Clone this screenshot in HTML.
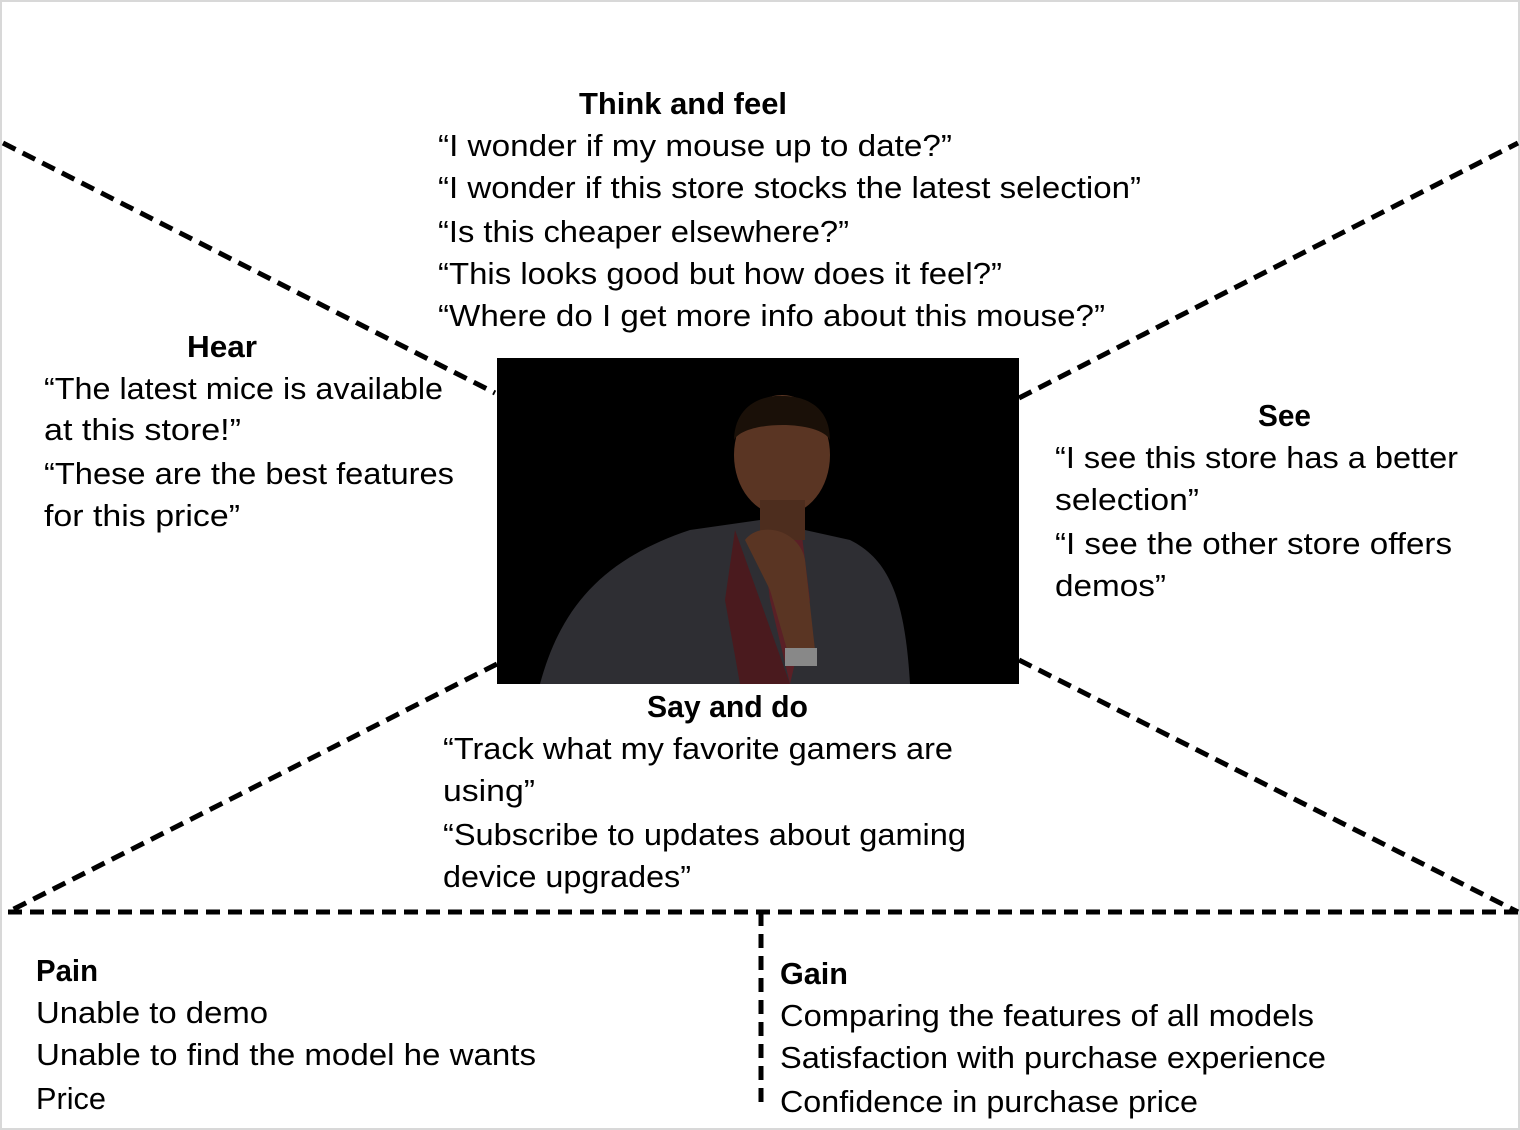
<!DOCTYPE html>
<html><head><meta charset="utf-8"><style>
html,body{margin:0;padding:0;background:#fff;}
svg{display:block;}
text{font-family:"Liberation Sans",sans-serif;font-size:31px;fill:#000;}
.b{font-weight:bold;}
</style></head><body>
<svg width="1520" height="1130" viewBox="0 0 1520 1130" xmlns="http://www.w3.org/2000/svg">
<rect x="1" y="1" width="1518" height="1128" fill="#fff" stroke="#d8d8d8" stroke-width="2"/>
<g stroke="#000" stroke-width="5" stroke-dasharray="14 8" fill="none">
<line x1="3" y1="143" x2="495" y2="393"/>
<line x1="1019" y1="398" x2="1518" y2="143"/>
<line x1="497" y1="664" x2="8" y2="912"/>
<line x1="1019" y1="660" x2="1518" y2="912"/>
<line x1="8" y1="912" x2="1518" y2="912"/>
<line x1="761" y1="912" x2="761" y2="1110"/>
</g>
<rect x="497" y="358" width="522" height="326" fill="#000"/>
<path d="M540 684 C560 610 600 560 690 530 L760 520 L850 540 C890 560 905 600 910 684 Z" fill="#2e2e33"/>
<path d="M735 530 L760 600 L790 684 L740 684 L725 600 Z" fill="#4a1a1e"/>
<path d="M760 520 L800 520 L810 600 L790 684 L770 600 Z" fill="#5a2026"/>
<ellipse cx="782" cy="455" rx="48" ry="60" fill="#5a3523"/>
<path d="M734 440 C735 400 770 395 782 396 C810 396 830 410 830 440 C820 420 745 420 734 440 Z" fill="#1a1008"/>
<rect x="760" y="500" width="45" height="40" fill="#4d2d1e"/>
<path d="M745 540 C760 520 800 530 805 560 L815 650 L790 660 L770 590 Z" fill="#5a3523"/>
<rect x="785" y="648" width="32" height="18" fill="#888"/>
<text class="b" x="579" y="114" textLength="208" lengthAdjust="spacingAndGlyphs">Think and feel</text>
<text x="438" y="156" textLength="514" lengthAdjust="spacingAndGlyphs">“I wonder if my mouse up to date?”</text>
<text x="438" y="198" textLength="703" lengthAdjust="spacingAndGlyphs">“I wonder if this store stocks the latest selection”</text>
<text x="438" y="242" textLength="411" lengthAdjust="spacingAndGlyphs">“Is this cheaper elsewhere?”</text>
<text x="438" y="284" textLength="564" lengthAdjust="spacingAndGlyphs">“This looks good but how does it feel?”</text>
<text x="438" y="326" textLength="667" lengthAdjust="spacingAndGlyphs">“Where do I get more info about this mouse?”</text>
<text class="b" x="187" y="357" textLength="70" lengthAdjust="spacingAndGlyphs">Hear</text>
<text x="44" y="399" textLength="399" lengthAdjust="spacingAndGlyphs">“The latest mice is available</text>
<text x="44" y="440" textLength="197" lengthAdjust="spacingAndGlyphs">at this store!”</text>
<text x="44" y="484" textLength="410" lengthAdjust="spacingAndGlyphs">“These are the best features</text>
<text x="44" y="526" textLength="196" lengthAdjust="spacingAndGlyphs">for this price”</text>
<text class="b" x="1258" y="426" textLength="53" lengthAdjust="spacingAndGlyphs">See</text>
<text x="1055" y="468" textLength="403" lengthAdjust="spacingAndGlyphs">“I see this store has a better</text>
<text x="1055" y="510" textLength="144" lengthAdjust="spacingAndGlyphs">selection”</text>
<text x="1055" y="554" textLength="397" lengthAdjust="spacingAndGlyphs">“I see the other store offers</text>
<text x="1055" y="596" textLength="111" lengthAdjust="spacingAndGlyphs">demos”</text>
<text class="b" x="647" y="717" textLength="161" lengthAdjust="spacingAndGlyphs">Say and do</text>
<text x="443" y="759" textLength="510" lengthAdjust="spacingAndGlyphs">“Track what my favorite gamers are</text>
<text x="443" y="801" textLength="92" lengthAdjust="spacingAndGlyphs">using”</text>
<text x="443" y="845" textLength="523" lengthAdjust="spacingAndGlyphs">“Subscribe to updates about gaming</text>
<text x="443" y="887" textLength="248" lengthAdjust="spacingAndGlyphs">device upgrades”</text>
<text class="b" x="36" y="981" textLength="62" lengthAdjust="spacingAndGlyphs">Pain</text>
<text x="36" y="1023" textLength="232" lengthAdjust="spacingAndGlyphs">Unable to demo</text>
<text x="36" y="1065" textLength="500" lengthAdjust="spacingAndGlyphs">Unable to find the model he wants</text>
<text x="36" y="1109" textLength="70" lengthAdjust="spacingAndGlyphs">Price</text>
<text class="b" x="780" y="984" textLength="68" lengthAdjust="spacingAndGlyphs">Gain</text>
<text x="780" y="1026" textLength="534" lengthAdjust="spacingAndGlyphs">Comparing the features of all models</text>
<text x="780" y="1068" textLength="546" lengthAdjust="spacingAndGlyphs">Satisfaction with purchase experience</text>
<text x="780" y="1112" textLength="418" lengthAdjust="spacingAndGlyphs">Confidence in purchase price</text>
</svg>
</body></html>
